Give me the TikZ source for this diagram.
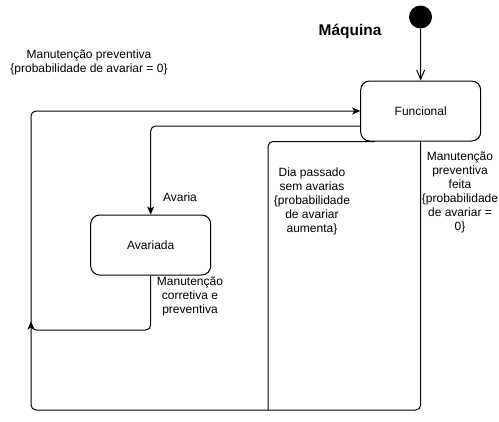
\documentclass[tikz,border=0pt]{standalone}
\usepackage{fontspec}
\setmainfont{Liberation Sans}
\usetikzlibrary{arrows.meta,calc}
\begin{document}
\begin{tikzpicture}[x=0.75pt,y=-0.75pt,
  state/.style={draw,line width=0.75pt,rounded corners=6.75pt,minimum width=90pt,minimum height=45pt,inner sep=0pt,font=\fontsize{9}{10.8}\selectfont},
  lbl/.style={font=\fontsize{9}{10.5}\selectfont,align=center,inner sep=0pt},
  conn/.style={line width=0.75pt,rounded corners=3.75pt},
  arr/.style={-{Stealth[length=6pt,width=5.25pt,inset=1.6pt]}},
  openarr/.style={-{Straight Barb[length=7pt,width=6pt,line width=0.75pt]}}]
\useasboundingbox (0,0) rectangle (499,421);
\node[state] (F) at (420.7,111) {Funcional};
\node[state] (A) at (150.7,245) {Avariada};
\node[circle,fill,minimum size=17.25pt,inner sep=0pt] (I) at (420.5,17) {};
\node[font=\fontsize{11.6}{13}\selectfont\bfseries,inner sep=0pt] (T) at (350,31) {Máquina};
\node[lbl] (l1) at (89,62) {Manutenção preventiva\\\{probabilidade de avariar = 0\}};
\node[lbl] (l2) at (180,197) {Avaria};
\node[lbl] (l3) at (312,201) {Dia passado\\sem avarias\\\{probabilidade\\de avariar\\aumenta\}};
\node[lbl] (l4) at (460,192.5) {Manutenção\\preventiva\\feita\\\{probabilidade\\de avariar =\\0\}};
\node[lbl] (l5) at (190,296) {Manutenção\\corretiva e\\preventiva};
\coordinate (c1) at (31,330);
\coordinate (c2) at (31,321.5);
\coordinate (c3) at (31,410);
\coordinate (c4) at (268,410);
\draw[line width=0.75pt,openarr] (I) -- (F);
\draw[conn,arr] ($(F.west)+(0,15)$) -| (A.north);
\draw[conn,arr] (A.south) |- (c1) -- (c2);
\draw[conn,arr] (F.south) |- (c3) |- (F.west);
\draw[conn] ($(F.south west)+(15,0)$) -| (c4);
\end{tikzpicture}
\end{document}
